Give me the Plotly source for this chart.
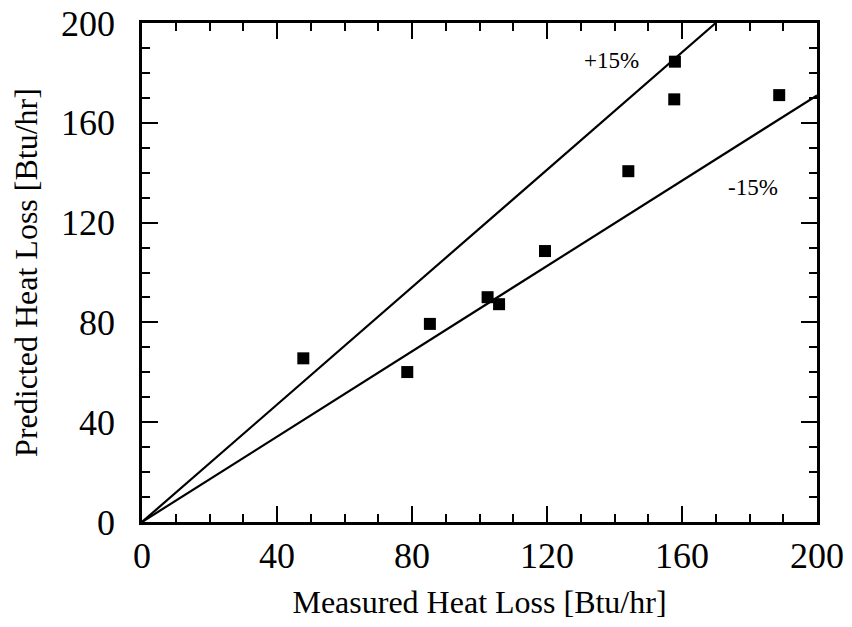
import plotly.graph_objects as go

measured = [47.8, 78.6, 85.3, 102.4, 105.8, 119.4, 144.1, 157.9, 157.7, 188.8]
predicted = [65.6, 60.1, 79.4, 90.1, 87.3, 108.6, 140.6, 184.5, 169.4, 171.1]

upper_x = [0, 170]
upper_y = [0, 200]
lower_x = [0, 200]
lower_y = [0, 171]

labels = ["+15%", "-15%"]
label_x = [139, 181]
label_y = [185, 134]

tick_vals = [0, 40, 80, 120, 160, 200]
font_family = "Liberation Serif, Times New Roman, serif"

fig = go.Figure()
fig.add_trace(go.Scatter(x=upper_x, y=upper_y, mode="lines",
                         line=dict(color="black", width=2.2), showlegend=False))
fig.add_trace(go.Scatter(x=lower_x, y=lower_y, mode="lines",
                         line=dict(color="black", width=2.2), showlegend=False))
fig.add_trace(go.Scatter(x=measured, y=predicted, mode="markers",
                         marker=dict(symbol="square", size=12, color="black"),
                         showlegend=False))
for t, x, y in zip(labels, label_x, label_y):
    fig.add_annotation(x=x, y=y, text=t, showarrow=False,
                       font=dict(family=font_family, size=23, color="black"))

axis_common = dict(
    range=[0, 200], tickvals=tick_vals, ticks="inside", ticklen=16, tickwidth=2,
    tickcolor="black", showline=True, linecolor="black", linewidth=2.5,
    mirror="ticks", showgrid=False, zeroline=False, automargin=False,
    ticklabeloverflow="allow",
    tickfont=dict(family=font_family, size=36, color="black"),
    minor=dict(ticks="inside", ticklen=8, tickwidth=2, tickcolor="black", dtick=10, showgrid=False),
)

fig.update_xaxes(**axis_common,
                 title=dict(text="Measured Heat Loss [Btu/hr]", standoff=16,
                            font=dict(family=font_family, size=32, color="black")))
fig.update_yaxes(**axis_common, ticklabelstandoff=17,
                 title=dict(text="Predicted Heat Loss [Btu/hr]", standoff=14,
                            font=dict(family=font_family, size=32, color="black")))

fig.update_layout(
    width=852, height=627,
    margin=dict(l=142, r=35, t=23, b=105),
    plot_bgcolor="white", paper_bgcolor="white",
)

# remove the page's default body margin so the figure sits at the window origin
fig.write_html("out.html", config={"displayModeBar": False},
               post_script="document.body.style.margin='0px';")
